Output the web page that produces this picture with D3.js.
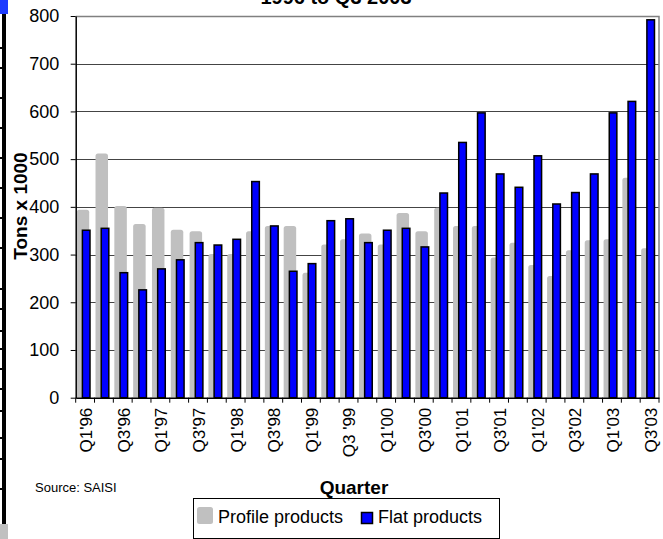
<!DOCTYPE html>
<html>
<head>
<meta charset="utf-8">
<script src="https://cdn.jsdelivr.net/npm/d3@7"></script>
<style>
  html, body { margin: 0; padding: 0; background: #fff; }
  svg { display: block; font-family: "Liberation Sans", Arial, sans-serif; }
</style>
</head>
<body>
<svg id="chart" width="663" height="539"></svg>
<script>
// ---- data ----
const categories = ["Q1'96","Q2'96","Q3'96","Q4'96","Q1'97","Q2'97","Q3'97","Q4'97",
  "Q1'98","Q2'98","Q3'98","Q4'98","Q1'99","Q2'99","Q3 '99","Q4'99",
  "Q1'00","Q2'00","Q3'00","Q4'00","Q1'01","Q2'01","Q3'01","Q4'01",
  "Q1'02","Q2'02","Q3'02","Q4'02","Q1'03","Q2'03","Q3'03"];
const profileProducts = [394,512,402,364,398,352,349,301,301,349,360,360,262,321,332,344,
  321,387,349,398,360,360,294,325,278,255,309,330,332,461,313];
const flatProducts = [351,355,262,226,270,289,325,320,332,453,360,265,281,371,375,325,
  351,355,316,429,535,597,469,441,507,406,430,469,597,621,792];
const yTicks = [0,100,200,300,400,500,600,700,800];
const seriesNames = ["Profile products", "Flat products"];
const seriesColors = ["#c0c0c0", "#0000ff"];

// ---- layout ----
const svg = d3.select("#chart");
const pLeft = 75.7, pRight = 659, pTop = 16, pBottom = 397.7;

const x = d3.scaleBand().domain(categories).range([pLeft, pRight]).padding(0);
const y = d3.scaleLinear().domain([0, 800]).range([pBottom, pTop]);

// left-edge slide remnant
const edge = svg.append("g");
edge.append("rect").attr("x", 0).attr("y", 0).attr("width", 8).attr("height", 14).attr("fill", "#1e3cff");
edge.append("rect").attr("x", 2).attr("y", 14).attr("width", 4).attr("height", 510).attr("fill", "#000");
edge.append("rect").attr("x", 0).attr("y", 524).attr("width", 8).attr("height", 15).attr("fill", "#c0c0c0");
[47,67,97,127,157,187,217,247,288,308,330,348,368,388,410,437,458,488].forEach(v => {
  edge.append("rect").attr("x", 0).attr("y", v).attr("width", 2).attr("height", 2).attr("fill", "#000");
});

// title (cut off at top)
svg.append("text").attr("x", 336).attr("y", 4).attr("text-anchor", "middle")
  .attr("font-size", 20).attr("font-weight", "bold").text("1996 to Q3 2003");

// gridlines
svg.append("g").selectAll("line").data(yTicks.filter(t => t > 0 && t < 800)).join("line")
  .attr("x1", pLeft).attr("x2", pRight)
  .attr("y1", d => Math.round(y(d)) + 0.5).attr("y2", d => Math.round(y(d)) + 0.5)
  .attr("stroke", "#444").attr("stroke-width", 1);
// plot border (top/right gray)
svg.append("path")
  .attr("d", `M${pLeft},${Math.round(y(800)) + 0.5}H${pRight}V${pBottom}`)
  .attr("fill", "none").attr("stroke", "#808080").attr("stroke-width", 1.5);

// bars
const bw = x.bandwidth();
svg.append("g").selectAll("path").data(profileProducts).join("path")
  .attr("fill", seriesColors[0])
  .attr("d", (d, i) => {
    const x0 = x(categories[i]) + 1, w = 12.5, y0 = y(d), r = 2.5, yb = y(0);
    return `M${x0},${yb}V${y0 + r}Q${x0},${y0} ${x0 + r},${y0}H${x0 + w - r}Q${x0 + w},${y0} ${x0 + w},${y0 + r}V${yb}Z`;
  });
svg.append("g").selectAll("rect").data(flatProducts).join("rect")
  .attr("x", (d, i) => x(categories[i]) + 6.7)
  .attr("width", 7.6)
  .attr("y", d => y(d))
  .attr("height", d => y(0) - y(d))
  .attr("fill", seriesColors[1]).attr("stroke", "#000").attr("stroke-width", 1.5);

// y axis
const yAxis = svg.append("g").attr("transform", `translate(${pLeft},0)`)
  .call(d3.axisLeft(y).tickValues(yTicks).tickSize(5).tickPadding(11.5).tickSizeOuter(0));
yAxis.select(".domain").attr("stroke", "#000").attr("stroke-width", 1.5);
yAxis.selectAll(".tick line").attr("stroke", "#000");
yAxis.selectAll("text").attr("font-size", 18).attr("font-family", "Liberation Sans, Arial, sans-serif").attr("fill", "#000");

// x axis
const xAxis = svg.append("g").attr("transform", `translate(0,${pBottom})`)
  .call(d3.axisBottom(x).tickSize(0).tickFormat(""));
xAxis.select(".domain").attr("stroke", "#000").attr("stroke-width", 1.5);
// tick marks at category boundaries
svg.append("g").selectAll("line").data(categories.concat(["end"])).join("line")
  .attr("x1", (d, i) => pLeft + i * bw).attr("x2", (d, i) => pLeft + i * bw)
  .attr("y1", pBottom).attr("y2", pBottom + 5).attr("stroke", "#000");
// labels every other quarter
svg.append("g").selectAll("text").data(categories.filter((d, i) => i % 2 === 0)).join("text")
  .attr("transform", d => `translate(${x(d) + bw / 2 + 1},${pBottom + 10}) rotate(-90)`)
  .attr("text-anchor", "end").attr("dy", "0.35em")
  .attr("font-size", 17).attr("fill", "#000").text(d => d);

// axis titles
svg.append("text").attr("transform", "translate(27,206) rotate(-90)")
  .attr("text-anchor", "middle").attr("font-size", 19).attr("font-weight", "bold").text("Tons x 1000");
svg.append("text").attr("x", 354).attr("y", 494).attr("text-anchor", "middle")
  .attr("font-size", 19).attr("font-weight", "bold").text("Quarter");
svg.append("text").attr("x", 35).attr("y", 492).attr("font-size", 13).text("Source: SAISI");

// legend
const lg = svg.append("g");
lg.append("rect").attr("x", 193.5).attr("y", 498.5).attr("width", 306).attr("height", 40)
  .attr("fill", "#fff").attr("stroke", "#000");
lg.append("rect").attr("x", 197).attr("y", 507).attr("width", 16).attr("height", 17).attr("rx", 2.5)
  .attr("fill", seriesColors[0]);
lg.append("text").attr("x", 218).attr("y", 523).attr("font-size", 18).text(seriesNames[0]);
lg.append("rect").attr("x", 361.5).attr("y", 512.5).attr("width", 11).attr("height", 11)
  .attr("fill", seriesColors[1]).attr("stroke", "#000").attr("stroke-width", 1.5);
lg.append("text").attr("x", 378).attr("y", 523).attr("font-size", 18).text(seriesNames[1]);
</script>
</body>
</html>
